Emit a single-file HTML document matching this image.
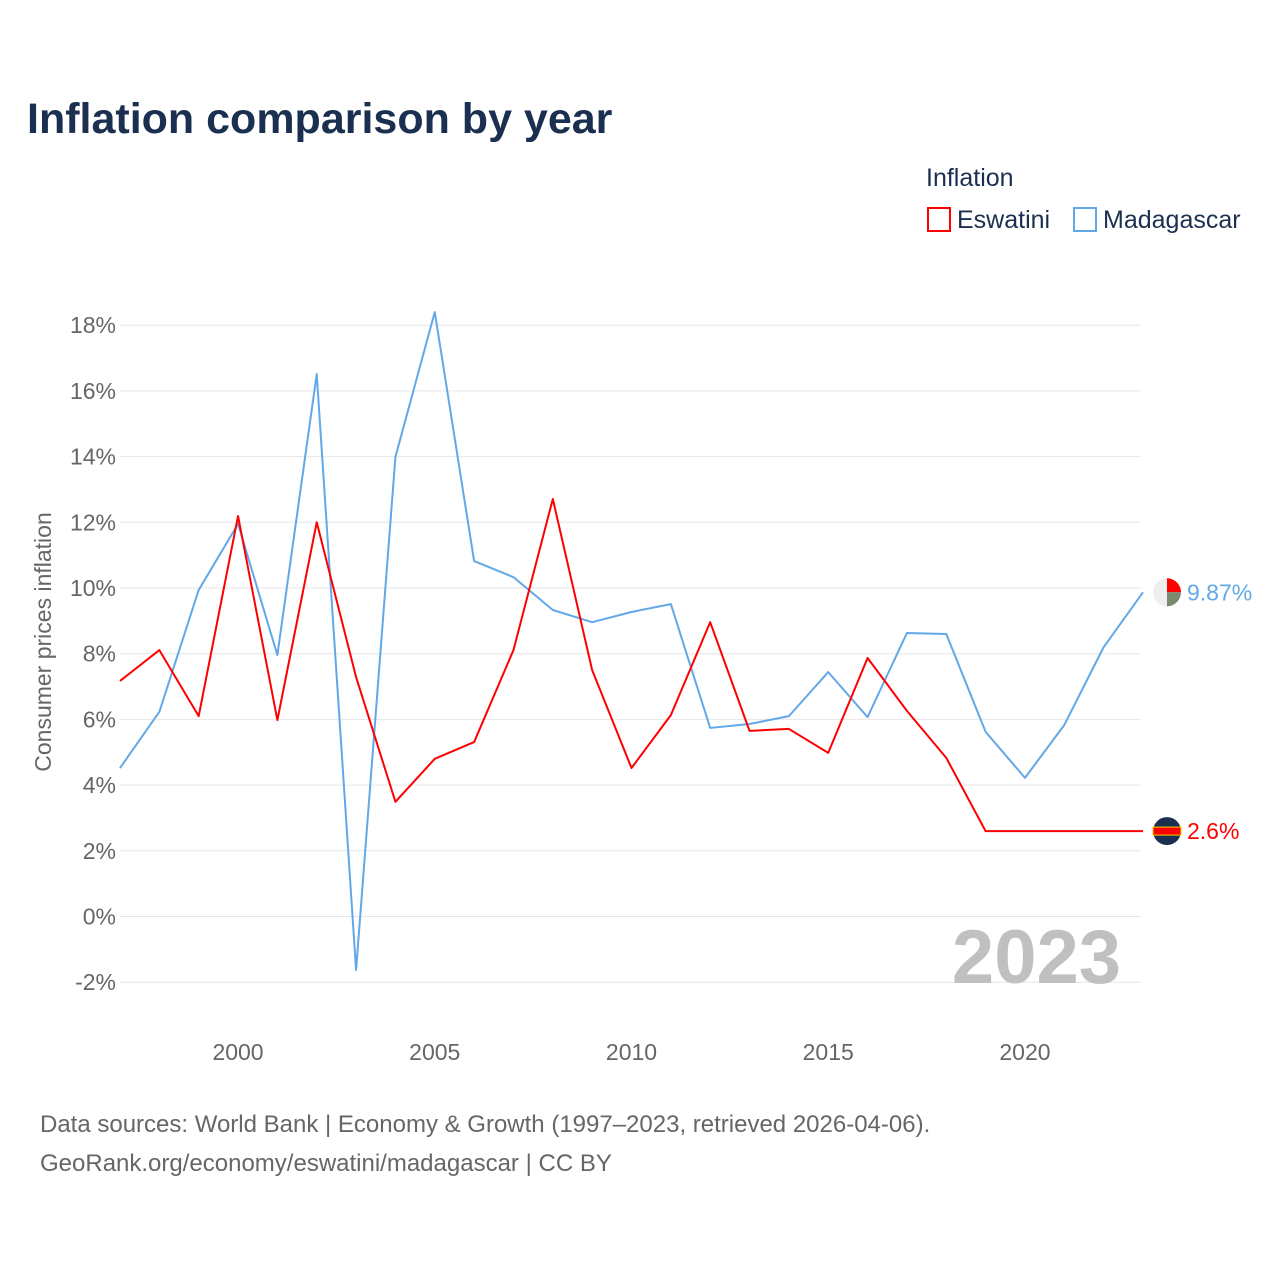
<!DOCTYPE html>
<html><head><meta charset="utf-8"><style>
body{margin:0;background:#fff;}
svg text{font-family:"Liberation Sans",sans-serif;}
</style></head><body>
<svg id="chart" width="1280" height="1280" viewBox="0 0 1280 1280">
<rect width="1280" height="1280" fill="#fff"/>
<text x="27" y="133" font-size="43" font-weight="bold" fill="#1b2f50">Inflation comparison by year</text>
<text x="926" y="186" font-size="25" fill="#1b2f50">Inflation</text>
<g><rect x="928" y="208" width="22" height="23" fill="none" stroke="#f00" stroke-width="2"/><text x="957" y="228" font-size="25" fill="#1b2f50">Eswatini</text></g>
<g><rect x="1074" y="208" width="22" height="23" fill="none" stroke="#62a8e8" stroke-width="2"/><text x="1103" y="228" font-size="25" fill="#1b2f50">Madagascar</text></g>
<text transform="translate(51,642) rotate(-90)" text-anchor="middle" font-size="23" fill="#666">Consumer prices inflation</text>
<g id="grid"></g><g id="xt"></g>
<text x="1121" y="983" text-anchor="end" font-size="76" font-weight="bold" fill="#c0c0c0">2023</text>
<g id="series"></g>
<text x="40" y="1132" font-size="24" fill="#666">Data sources: World Bank | Economy &amp; Growth (1997–2023, retrieved 2026-04-06).</text>
<text x="40" y="1171" font-size="24" fill="#666">GeoRank.org/economy/eswatini/madagascar | CC BY</text>
</svg>
<script>
const years=[1997,1998,1999,2000,2001,2002,2003,2004,2005,2006,2007,2008,2009,2010,2011,2012,2013,2014,2015,2016,2017,2018,2019,2020,2021,2022,2023];
const eswatini=[7.17,8.11,6.1,12.19,5.98,12.0,7.29,3.49,4.8,5.31,8.11,12.71,7.5,4.52,6.13,8.96,5.65,5.71,4.98,7.87,6.26,4.83,2.6,2.6,2.6,2.6,2.6];
const madagascar=[4.52,6.23,9.94,11.95,7.96,16.51,-1.63,13.99,18.4,10.82,10.33,9.33,8.96,9.27,9.51,5.74,5.86,6.1,7.44,6.07,8.63,8.6,5.62,4.22,5.83,8.2,9.87];
const yTicks=[-2,0,2,4,6,8,10,12,14,16,18];
const xTicks=[2000,2005,2010,2015,2020];
const NS="http://www.w3.org/2000/svg";
const xs=y=>120+(y-1997)*(1143-120)/26;
const ys=v=>916.5-v*32.85;
function mk(t,a,p){const e=document.createElementNS(NS,t);for(const k in a)e.setAttribute(k,a[k]);p.appendChild(e);return e;}
const grid=document.getElementById('grid');
yTicks.forEach(v=>{
  const l=mk('line',{x1:120,x2:1141,y1:ys(v),y2:ys(v),stroke:'#e6e6e6','stroke-width':1},grid);
  
  
  const t=mk('text',{x:116,y:ys(v)+8,'text-anchor':'end','font-size':23,fill:'#666'},grid);
  t.textContent=(v<0?'-'+Math.abs(v):v)+'%';
  
  
});
const xt=document.getElementById('xt');
xTicks.forEach(y=>{
  const t=mk('text',{x:xs(y),y:1060,'text-anchor':'middle','font-size':23,fill:'#666'},xt);
  t.textContent=y;
  
  
});
const sg=document.getElementById('series');
function line(vals,col,name){
  const p=mk('polyline',{points:vals.map((v,i)=>xs(years[i])+','+ys(v)).join(' '),fill:'none',stroke:col,'stroke-width':2,'stroke-linejoin':'round'},sg);
  
  
  const last=vals[vals.length-1];
  const cy=ys(last);
  const g=mk('g',{},sg);
  
  
  if(name==='eswatini'){
    mk('circle',{cx:1167,cy:cy,r:14,fill:'#1b2f50'},g);
    mk('rect',{x:1153,y:cy-4,width:28,height:8,fill:'#f00',stroke:'#fc0','stroke-width':1},g);
  }else{
    mk('circle',{cx:1167,cy:cy,r:14,fill:'#eee'},g);
    mk('path',{d:`M1167 ${cy} L1167 ${cy-14} A14 14 0 0 1 1181 ${cy} Z`,fill:'#f00'},g);
    mk('path',{d:`M1167 ${cy} L1181 ${cy} A14 14 0 0 1 1167 ${cy+14} Z`,fill:'#7a8a6e'},g);
  }
  const t=mk('text',{x:1187,y:cy+8,'font-size':23,fill:col},sg);
  t.textContent=(name==='eswatini'?last.toFixed(1):last.toFixed(2))+'%';
  
  
}
line(madagascar,'#62a8e8','madagascar');
line(eswatini,'#f00','eswatini');
</script>
</body></html>
